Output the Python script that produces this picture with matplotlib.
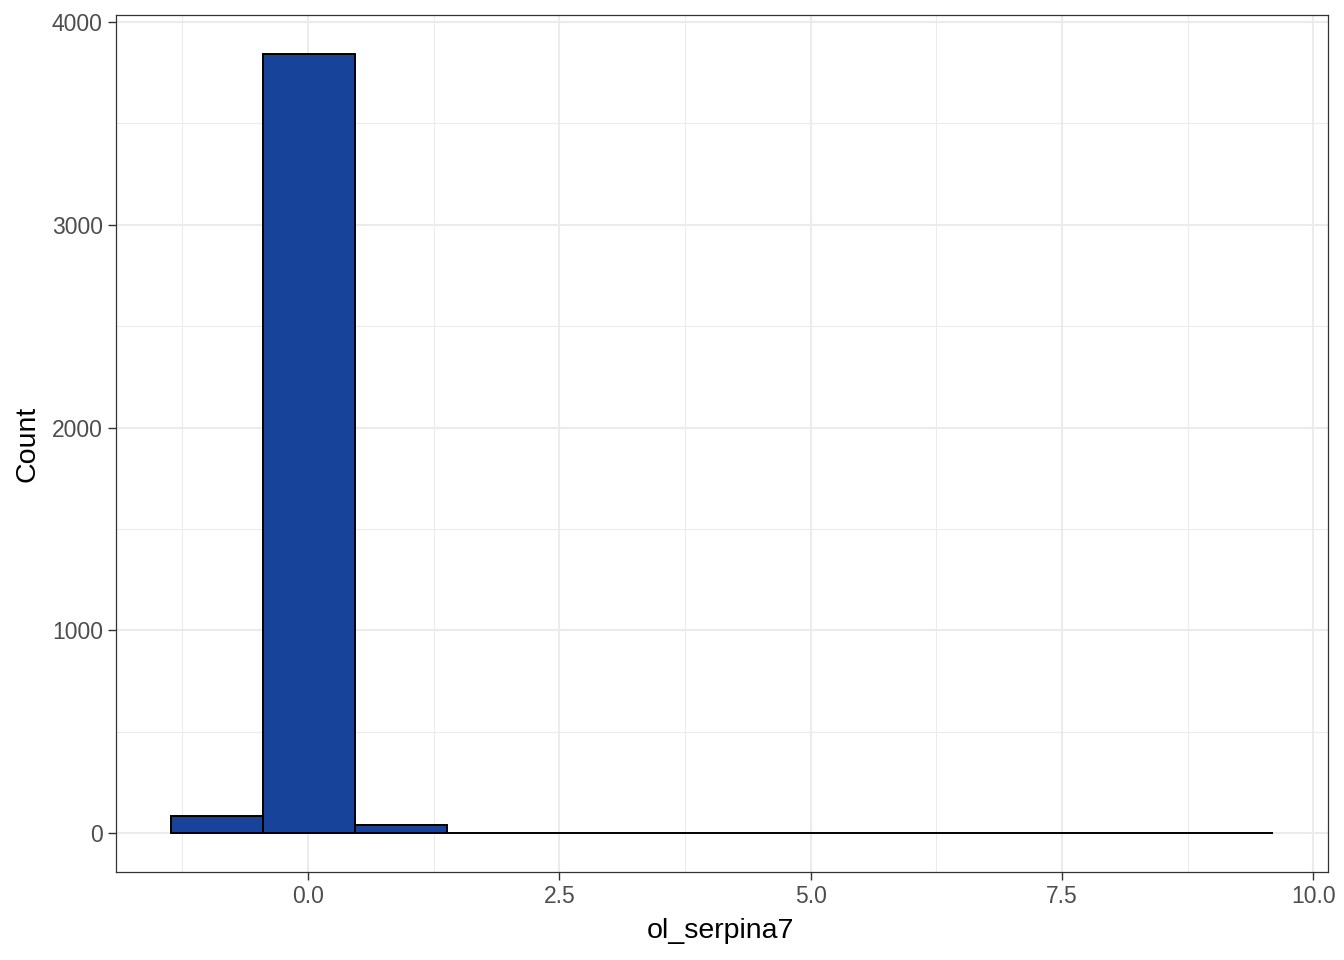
import numpy as np
import matplotlib
matplotlib.use("Agg")
import matplotlib.pyplot as plt
from matplotlib.ticker import FixedLocator

plt.rcParams['font.family'] = ['Liberation Sans', 'DejaVu Sans']

# Data (histogram of ol_serpina7)
bin_start = -1.362
bin_width = 0.9134
counts = [85, 3843, 42, 0, 0, 0, 0, 0, 0, 0, 0, 1]
x_ticks = [0.0, 2.5, 5.0, 7.5, 10.0]
x_tick_labels = ["0.0", "2.5", "5.0", "7.5", "10.0"]
y_ticks = [0, 1000, 2000, 3000, 4000]
x_label = "ol_serpina7"
y_label = "Count"

edges = bin_start + bin_width * np.arange(len(counts) + 1)

fig = plt.figure(figsize=(13.44, 9.6), dpi=100)
ax = fig.add_axes([116/1344, 1 - 872/960, (1328-116)/1344, (872-15)/960])

ax.bar(edges[:-1], counts, width=bin_width, align='edge',
       color='#17449A', edgecolor='black', linewidth=1.4, zorder=3)

# ggplot-like expansion
xr = edges[-1] - edges[0]
ax.set_xlim(edges[0] - 0.05 * xr, edges[-1] + 0.05 * xr)
ymax = max(counts)
ax.set_ylim(-0.05 * ymax, ymax * 1.05)

ax.xaxis.set_major_locator(FixedLocator(x_ticks))
ax.set_xticklabels(x_tick_labels)
ax.xaxis.set_minor_locator(FixedLocator([-1.25, 1.25, 3.75, 6.25, 8.75]))
ax.yaxis.set_major_locator(FixedLocator(y_ticks))
ax.yaxis.set_minor_locator(FixedLocator([500, 1500, 2500, 3500]))

ax.grid(which='major', color='#EBEBEB', linewidth=1.45, zorder=0)
ax.grid(which='minor', color='#EBEBEB', linewidth=0.75, zorder=0)
ax.set_axisbelow(True)

ax.tick_params(which='major', length=5.5, width=1.0, color='#333333',
               labelsize=16.5, labelcolor='#4D4D4D', pad=4)
ax.tick_params(which='minor', length=0)

for s in ax.spines.values():
    s.set_color('#333333')
    s.set_linewidth(0.9)

ax.set_xlabel(x_label, fontsize=20.5, color='black', va='center')
ax.xaxis.set_label_coords((720 - 116) / 1212, (872 - 931) / 857)
ax.set_ylabel(y_label, fontsize=20.5, color='black', va='center')
ax.yaxis.set_label_coords((27 - 116) / 1212, 0.5)

fig.savefig('out.png', dpi=100)
